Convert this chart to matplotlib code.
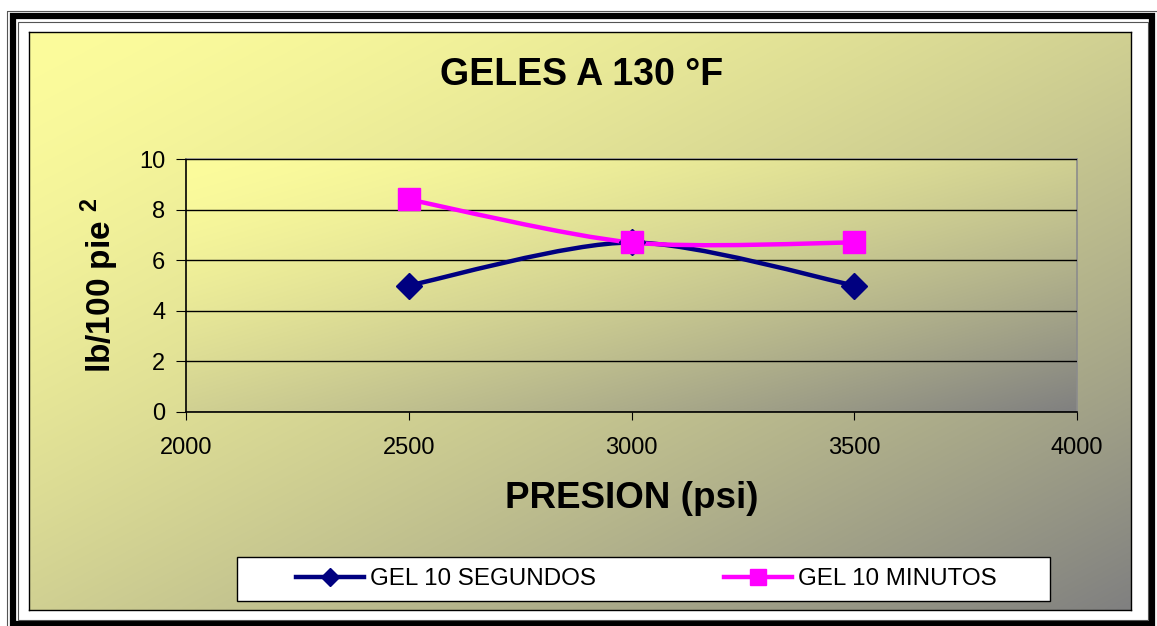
import numpy as np
import matplotlib.pyplot as plt
from matplotlib.path import Path
from matplotlib.patches import PathPatch, Rectangle
from matplotlib.lines import Line2D

plt.rcParams['font.family'] = ['Liberation Sans', 'DejaVu Sans']
plt.rcParams['mathtext.fontset'] = 'custom'
plt.rcParams['mathtext.bf'] = 'Liberation Sans:bold'
plt.rcParams['mathtext.rm'] = 'Liberation Sans'

# data
presion = [2500, 3000, 3500]
gel_10_seg = [5.0, 6.7, 5.0]
gel_10_min = [8.4, 6.7, 6.7]
series_names = ['GEL 10 SEGUNDOS', 'GEL 10 MINUTOS']
x_ticks = [2000, 2500, 3000, 3500, 4000]
y_ticks = [0, 2, 4, 6, 8, 10]

W, H = 1157, 626
yellow = np.array([252, 252, 156]) / 255.0
grey = np.array([128, 128, 128]) / 255.0


def gradient(n=200, m=200):
    # diagonal: top-left yellow -> bottom-right grey, weighted to the yellow side
    xx, yy = np.meshgrid(np.linspace(0, 1, n), np.linspace(0, 1, m))
    t = ((xx + yy) / 2.0) ** 1.5
    return yellow[None, None, :] * (1 - t[..., None]) + grey[None, None, :] * t[..., None]


def smooth_path(xs, ys, k=1 / 7.0):
    # excel-like smoothed line: bezier segments with catmull-rom control points
    pts = np.column_stack([xs, ys]).astype(float)
    n = len(pts)
    verts = [pts[0]]
    codes = [Path.MOVETO]
    for i in range(n - 1):
        p_prev = pts[max(i - 1, 0)]
        p0, p1 = pts[i], pts[i + 1]
        p_next = pts[min(i + 2, n - 1)]
        c1 = p0 + (p1 - p_prev) * k
        c2 = p1 - (p_next - p0) * k
        verts += [c1, c2, p1]
        codes += [Path.CURVE4] * 3
    return Path(verts, codes)


def px_rect(x0, y0, x1, y1):
    return [x0 / W, 1 - y1 / H, (x1 - x0) / W, (y1 - y0) / H]


fig = plt.figure(figsize=(W / 100, H / 100), dpi=100)
fig.patch.set_facecolor('white')

# frame around everything, in pixel coordinates
bg = fig.add_axes([0, 0, 1, 1], zorder=-10)
bg.set_xlim(0, W)
bg.set_ylim(H, 0)
bg.axis('off')
bg.add_patch(Rectangle((6.5, 10.5), 1150, 620, fill=False, ec='#555555', lw=0.8))
bg.add_patch(Rectangle((13, 16), 1139, 608, fill=False, ec='black', lw=4.5))
bg.add_patch(Rectangle((17.5, 21.5), 1130, 598, fill=False, ec='#555555', lw=0.8))

# chart area with gradient
chart = fig.add_axes(px_rect(29, 32, 1131, 610), zorder=-5)
chart.imshow(gradient(), extent=(0, 1, 0, 1), aspect='auto', interpolation='bilinear')
chart.set_xticks([])
chart.set_yticks([])
for s in chart.spines.values():
    s.set_color('black')
    s.set_linewidth(1.0)

# plot area
ax = fig.add_axes(px_rect(186, 159, 1077, 412))
ax.imshow(gradient(), extent=(0, 1, 0, 1), transform=ax.transAxes,
          aspect='auto', interpolation='bilinear', zorder=0)
ax.set_xlim(2000, 4000)
ax.set_ylim(0, 10)
ax.set_xticks(x_ticks)
ax.set_yticks(y_ticks)
ax.grid(axis='y', color='black', lw=1.0, zorder=1)
ax.set_axisbelow(False)
ax.spines['top'].set_color('#8c8c8c')
ax.spines['right'].set_color('#8c8c8c')
ax.spines['left'].set_color('black')
ax.spines['bottom'].set_color('black')
for s in ax.spines.values():
    s.set_linewidth(1.2)
ax.tick_params(axis='x', direction='out', length=6, pad=12, labelsize=17)
ax.tick_params(axis='y', direction='out', length=7, pad=8, labelsize=17)

colors = ['#000080', '#FF00FF']
markers = ['D', 's']
msizes = [13, 16]
for ys, c, m, ms in zip([gel_10_seg, gel_10_min], colors, markers, msizes):
    ax.add_patch(PathPatch(smooth_path(presion, ys), fill=False, ec=c, lw=3.2, zorder=3))
    ax.plot(presion, ys, ls='none', marker=m, ms=ms, color=c, mec=c, zorder=4)

ax.set_xlabel('PRESION (psi)', fontsize=26.5, fontweight='bold', labelpad=16)
ax.set_ylabel(r'lb/100 pie $^{\mathbf{2}}$', fontsize=24, fontweight='bold', labelpad=13)

fig.text(582 / W, 1 - 75 / H, 'GELES A 130 °F', ha='center', va='center',
         fontsize=27, fontweight='bold')

# legend box
lx0, ly0, lx1, ly1 = 237, 557, 1050, 601
fig.add_artist(Rectangle((lx0 / W, 1 - ly1 / H), (lx1 - lx0) / W, (ly1 - ly0) / H,
                         transform=fig.transFigure, fc='white', ec='black', lw=1.0, zorder=2))
handles = [Line2D([], [], color=c, lw=3.2, marker=m, ms=ms * 0.72, mec=c)
           for c, m, ms in zip(colors, markers, msizes)]
fig.legend(handles, series_names, loc='center', ncol=2, frameon=False,
           bbox_to_anchor=((lx0 + lx1) / 2 / W + 3 / W, 1 - (ly0 + ly1) / 2 / H),
           fontsize=17.4, handlelength=2.8, handletextpad=0.25, columnspacing=5.3,
           numpoints=1).set_zorder(3)

fig.savefig('out.png', dpi=100)
